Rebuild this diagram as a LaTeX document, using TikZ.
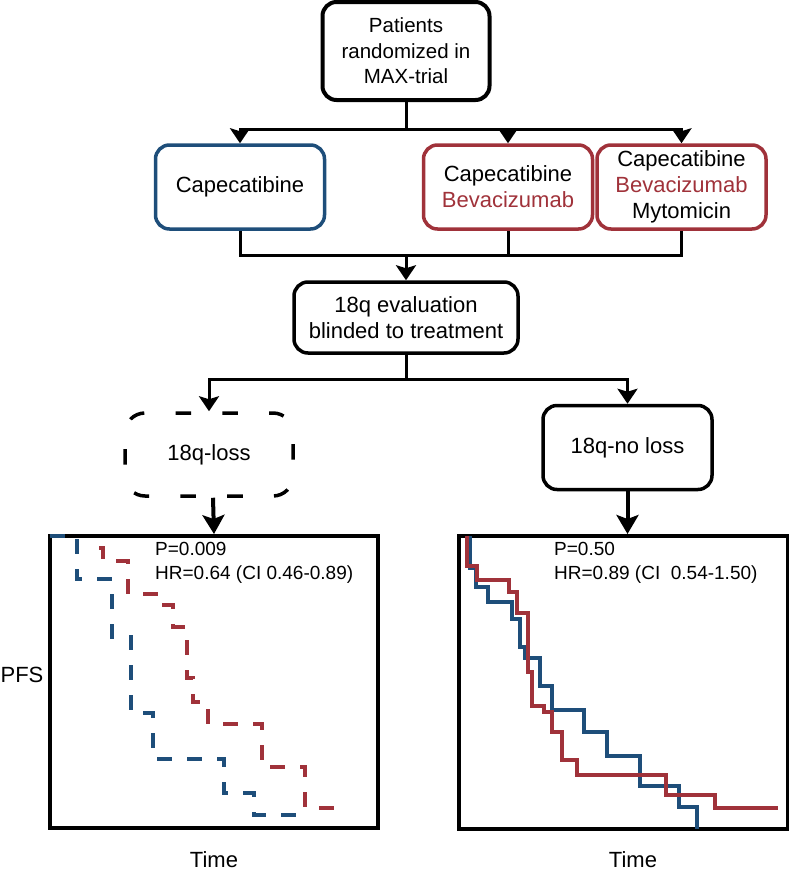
\documentclass[tikz,border=0pt]{standalone}
\usepackage{fontspec}
\setmainfont{Liberation Sans}
\usetikzlibrary{arrows.meta,calc,positioning}
\definecolor{armblue}{RGB}{30,78,122}
\definecolor{armred}{RGB}{160,50,58}
\tikzstyle{block}=[align=center, draw=black, line width=3.5pt, rectangle, rounded corners=14pt, inner sep=0pt, font=\fontsize{22}{26}\selectfont]
\tikzstyle{box}=[block, minimum width=169pt, minimum height=84pt]
\tikzstyle{mono arm}=[draw=armblue]
\tikzstyle{combo arm}=[draw=armred]
\tikzstyle{km frame}=[draw=black, line width=4pt, rectangle, inner sep=0pt, minimum width=328pt, minimum height=292pt]
\tikzstyle{my line}=[line width=3pt]
\tikzstyle{my arrow}=[my line, -{Stealth[length=15pt,width=20pt,inset=3pt]}]
\tikzstyle{big arrow}=[line width=4pt, -{Stealth[length=19pt,width=22pt,inset=4pt]}]
\tikzstyle{km blue}=[armblue, line width=4pt]
\tikzstyle{km red}=[armred, line width=4pt]
\tikzstyle{km dashed}=[line width=3.5pt, dash pattern=on 15pt off 15pt]
\tikzstyle{km text}=[align=left, anchor=north west, inner sep=0pt, font=\fontsize{19}{24}\selectfont]
\tikzstyle{axis label}=[inner sep=0pt, font=\fontsize{22}{26}\selectfont]

\begin{document}
\begin{tikzpicture}[x=1pt,y=-1pt]
\useasboundingbox (0,0) rectangle (789,873);

\draw (406,51) node[block, line width=4pt, minimum width=167pt, minimum height=98pt,
  font=\fontsize{20.5}{25.5}\selectfont] (Patients) {Patients\\randomized in\\MAX-trial};

\draw (Patients) ++(-166,136) node[box,mono arm] (Cape) {Capecatibine};
\draw (Patients) ++(102,136) node[box,combo arm] (CapeBev)
{Capecatibine\\\textcolor{armred}{Bevacizumab}};
\draw (Patients) ++(275.5,136) node[box,combo arm] (CapeBevMit)
{Capecatibine\\\textcolor{armred}{Bevacizumab}\\Mytomicin};

\draw (Patients) ++(0,266.5) node[block, minimum width=224pt, minimum height=71pt] (Eval)
{18q evaluation\\blinded to treatment};

\draw (Eval) ++(-197,137) node[box, minimum width=168pt, minimum height=83pt, rounded corners=20pt,
  dash pattern=on 15.6pt off 31.2pt, dash phase=11.7pt] (Loss) {18q-loss};
\draw (Eval) ++(221.5,130) node[box] (NoLoss) {18q-no loss};

\draw (214,682) node[km frame] (KmLoss) {};
\draw (KmLoss) ++(409.5,0.5) node[km frame, minimum width=329pt, minimum height=293pt] (KmNoLoss) {};

% survival curves, 18q-loss
\draw[km blue,km dashed] (50,536) -| (77,579) -| (112,637) -| (131,713) -| (153,759)
  -| (224,793) -| (254,815) -- (296,815);
\draw[km red,km dashed] (99,548) -| (103,561) -| (128,594) -| (160,605) -| (173,627)
  -| (187,678) -| (193,702) -| (208,724) -| (262,767) -| (305,808) -- (338,808);

% survival curves, 18q-no loss
\draw[km blue] (470,536) |- (476,568) |- (488,587) |- (512,602) |- (520,619) |- (525,647)
  |- (540,658) |- (552,686) |- (584,710) |- (607,732) |- (640,756) |- (679,786)
  |- (697,807) -- (697,829);
\draw[km red] (467,536) |- (477,566) |- (509,580) |- (517,592) |- (528,613) |- (532,672)
  |- (544,706) |- (552,712) |- (562,732) |- (577,760) |- (666,775) |- (715,795)
  |- (778,808);

\draw (KmLoss.north west) ++(107,8) node[km text] (StatsLoss) {P=0.009\\HR=0.64 (CI 0.46-0.89)};
\draw (KmNoLoss.north west) ++(97,8) node[km text] (StatsNoLoss) {P=0.50\\HR=0.89 (CI\ \ 0.54-1.50)};

\draw (KmLoss.west) ++(-26,-7) node[axis label] (PFS) {PFS};
\draw (KmLoss.south) ++(0,30) node[axis label] (TimeLoss) {Time};
\draw (KmNoLoss.south) ++(9.5,29) node[axis label] (TimeNoLoss) {Time};

% connectors
\coordinate (split) at ($(Patients.south)+(0,27)$);
\draw[my line] (Patients.south) -- (split);
\draw[my arrow] (split) -| (Cape.north);
\draw[my arrow] (split) -| (CapeBev.north);
\draw[my arrow] (split) -| (CapeBevMit.north);

\coordinate (merge) at ($(Eval.north)+(0,-25)$);
\draw[my line] (Cape.south) |- (merge);
\draw[my line] (CapeBev.south) |- (merge);
\draw[my line] (CapeBevMit.south) |- (merge);
\draw[my arrow] (merge) -- (Eval.north);

\coordinate (fork) at ($(Eval.south)+(0,25)$);
\draw[my line] (Eval.south) -- (fork);
\draw[my arrow] (fork) -| (Loss.north);
\draw[my arrow] (fork) -| (NoLoss.north);

\draw[big arrow] (Loss.south) ++(4,0) -- (KmLoss.north);
\draw[big arrow] (NoLoss.south) -- (NoLoss.south |- KmNoLoss.north);

\end{tikzpicture}
\end{document}
